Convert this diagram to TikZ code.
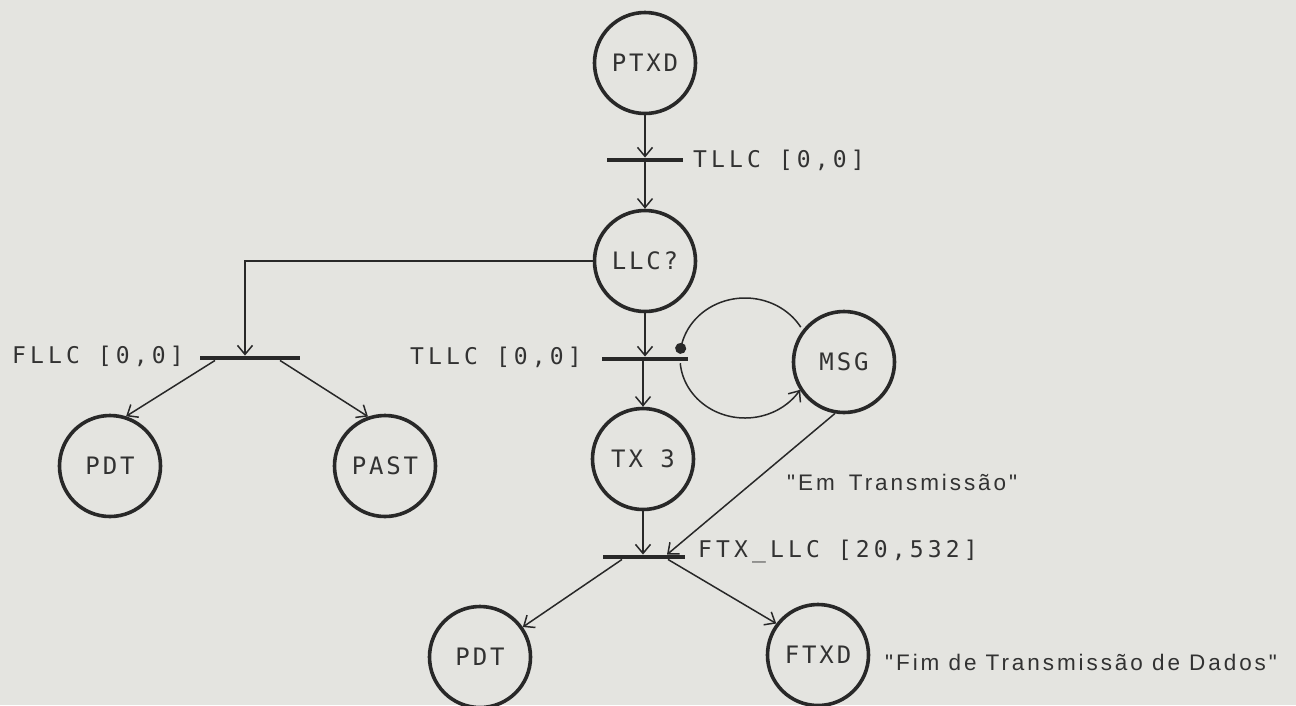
\documentclass[tikz,border=0pt]{standalone}
\usepackage{fontspec}
\setmainfont{Liberation Sans}
\newfontfamily\plotmono[LetterSpace=18]{DejaVu Sans Mono}
\newfontfamily\plotplace[LetterSpace=12]{DejaVu Sans Mono}
\newfontfamily\plotsans[LetterSpace=13]{Liberation Sans}
\usetikzlibrary{arrows.meta,calc}
\definecolor{paper}{RGB}{228,228,224}
\definecolor{ink}{RGB}{40,40,40}
\definecolor{txt}{RGB}{50,50,50}
\begin{document}
\begin{tikzpicture}[x=1pt,y=-1pt,
  place/.style={circle,draw=ink,line width=3.6pt,minimum size=101pt,inner sep=0pt,text=txt,font=\plotplace\fontsize{24}{28}\selectfont},
  bar/.style={rectangle,fill=ink,minimum height=4.5pt,inner sep=0pt},
  arc/.style={draw=ink,line width=1.5pt,-{Straight Barb[length=9pt,width=15pt]}},
  plainarc/.style={draw=ink,line width=1.5pt},
  lab/.style={text=txt,inner sep=0pt,font=\plotmono\fontsize{23}{27}\selectfont},
  quotetext/.style={text=txt,inner sep=0pt,font=\plotsans\fontsize{22.5}{26}\selectfont},
]
\useasboundingbox (0,0) rectangle (1296,705);
\fill[paper] (0,0) rectangle (1296,705);

% places
\node[place] (ptxd) at (645,63) {PTXD};
\node[place] (llc) at (645,261) {LLC?};
\node[place] (msg) at (844,362) {MSG};
\node[place] (tx3) at (643,459) {TX 3};
\node[place] (pdta) at (110,466) {PDT};
\node[place] (past) at (385,466) {PAST};
\node[place] (pdtb) at (480,657) {PDT};
\node[place] (ftxd) at (818,655) {FTXD};

% transitions
\node[bar,minimum width=76pt] (t1) at (645,160) {};
\node[bar,minimum width=100pt] (fllc) at (250,358) {};
\node[bar,minimum width=86pt] (t2) at (645,359) {};
\node[bar,minimum width=82pt] (ftx) at (644,557) {};

% labels
\node[lab,anchor=west] (lt1) at (693,160) {TLLC [0,0]};
\node[lab,anchor=west] (lfllc) at (12,356) {FLLC [0,0]};
\node[lab,anchor=east] (lt2) at (582,357) {TLLC [0,0]};
\node[lab,anchor=west] (lftx) at (698,551) {FTX\_LLC [20,532]};
\node[quotetext,anchor=west] (qem) at (787,482) {"Em\hspace{5pt} Transmissão"};
\node[quotetext,anchor=west] (qfim) at (885,662) {"Fim de Transmissão de Dados"};

% arcs
\draw[arc] (ptxd.south) -- (t1.north);
\draw[arc] (t1.south) -- (llc.north);
\draw[arc] (llc.west) -| ([xshift=-5pt]fllc.north);
\draw[arc] ([xshift=-35pt]fllc.south) -- (pdta.72);
\draw[arc] ([xshift=30pt]fllc.south) -- (past.109);
\draw[arc] (llc.south) -- (t2.north);
\draw[arc] (t2.south -| tx3.north) -- (tx3.north);
\draw[arc] (tx3.south) -- (tx3.south |- ftx.north);
\draw[arc] (msg.260) -- ([xshift=23pt]ftx.north);
\draw[arc] ([xshift=-22pt]ftx.south) -- (pdtb.35);
\draw[arc] ([xshift=24pt]ftx.south) -- (ftxd.143);

% loop between t2 and msg
\draw[plainarc,{Circle[length=11pt]}-] plot[domain=184:329,samples=80] ({745+65*cos(\x)},{358+60*sin(\x)});
\draw[draw=ink,line width=1.5pt,{Straight Barb[length=9pt,width=15pt]}-] plot[domain=32:175,samples=80] ({745+65*cos(\x)},{358+60*sin(\x)});
\end{tikzpicture}
\end{document}
